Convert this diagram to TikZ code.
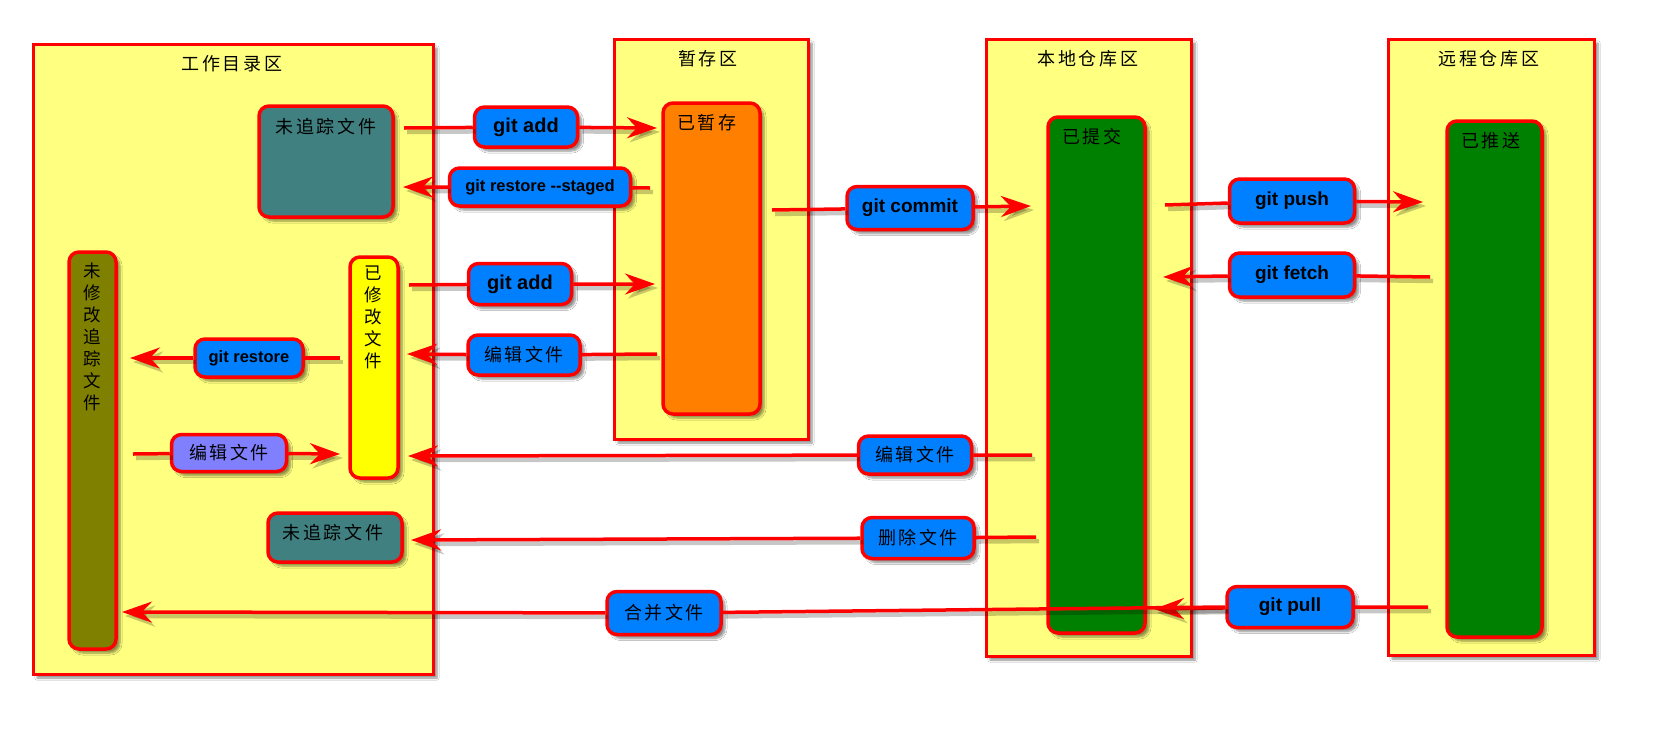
\documentclass[tikz,border=0pt]{standalone}
\usepackage{fontspec}
\setmainfont{Liberation Sans}
\newfontfamily\cjk[LetterSpace=14]{Noto Sans CJK SC}
\newfontfamily\cjkv{Noto Sans CJK SC}
\usetikzlibrary{arrows.meta,shadows.blur}
\definecolor{areaY}{HTML}{FFFF80}
\definecolor{teal1}{HTML}{408080}
\definecolor{olive1}{HTML}{808000}
\definecolor{yel1}{HTML}{FFFF00}
\definecolor{ora1}{HTML}{FF8000}
\definecolor{grn1}{HTML}{008000}
\definecolor{blu1}{HTML}{0080FF}
\definecolor{pur1}{HTML}{8080FF}
\tikzset{
 shd/.style={blur shadow={shadow xshift=4pt,shadow yshift=-4pt,shadow blur steps=6,shadow opacity=45}},
 area/.style={draw=red, line width=3pt, fill=areaY, shd, inner sep=0pt},
 box/.style={draw=red, line width=3.5pt, rounded corners=10pt, shd, inner sep=0pt},
 lab/.style={draw=red, line width=3.5pt, rounded corners=10pt, fill=blu1, shd, inner sep=0pt, minimum height=40pt, font=\bfseries\fontsize{20}{24}\selectfont},
 smlab/.style={lab, font=\bfseries\fontsize{16.5}{20}\selectfont},
 cjklab/.style={lab, font=\cjk\fontsize{18}{20}\selectfont},
 ttl/.style={font=\cjk\fontsize{18}{20}\selectfont, inner sep=0pt},
 vtxt/.style={font=\cjkv\fontsize{17.5}{22}\selectfont, align=center, inner sep=0pt, anchor=north},
 arr/.style={draw=red, line width=3.5pt, -{Stealth[length=30pt,width=21pt,inset=10pt]},
   preaction={draw=black, draw opacity=0.22, fill opacity=0.22, line width=4.5pt, transform canvas={xshift=3pt,yshift=-4pt}}},
}
\begin{document}
\begin{tikzpicture}[x=1pt,y=-1pt]
\fill[white] (0,0) rectangle (1671,737);
\useasboundingbox (0,0) rectangle (1671,737);

% areas
\node[area, minimum width=400pt, minimum height=630pt] (work) at (233,359) {};
\node[area, minimum width=194pt, minimum height=400pt] (stage) at (711,239) {};
\node[area, minimum width=205pt, minimum height=617pt] (local) at (1088.5,347.5) {};
\node[area, minimum width=206pt, minimum height=616pt] (remote) at (1491,347) {};
\node[ttl] (workT) at (232,64) {工作目录区};
\node[ttl] (stageT) at (708,59) {暂存区};
\node[ttl] (localT) at (1088,59) {本地仓库区};
\node[ttl] (remoteT) at (1489,59) {远程仓库区};
% state boxes
\node[box, fill=teal1, minimum width=134pt, minimum height=111pt] (untr1) at (326,161.5) {};
\node[ttl] (untr1T) at (326,127) {未追踪文件};
\node[box, fill=olive1, minimum width=47pt, minimum height=397pt] (clean) at (92.5,450.5) {};
\node[vtxt] (cleanT) at (92,263) {未\\修\\改\\追\\踪\\文\\件};
\node[box, fill=yel1, minimum width=48pt, minimum height=221pt] (mod) at (374,367.5) {};
\node[vtxt] (modT) at (373,266) {已\\修\\改\\文\\件};
\node[box, fill=teal1, minimum width=134pt, minimum height=49pt] (untr2) at (335,537.5) {};
\node[ttl] (untr2T) at (333,533) {未追踪文件};
\node[box, fill=ora1, minimum width=97pt, minimum height=311pt] (staged) at (711.5,258.5) {};
\node[ttl] (stagedT) at (707,123) {已暂存};
\node[box, fill=grn1, minimum width=97pt, minimum height=516pt] (commit) at (1096.5,375) {};
\node[ttl] (commitT) at (1092,137) {已提交};
\node[box, fill=grn1, minimum width=95pt, minimum height=516pt] (pushed) at (1494.5,379) {};
\node[ttl] (pushedT) at (1491,141) {已推送};

% labels
\node[lab, minimum width=103pt] (L1) at (526,127) {git add};
\node[smlab, minimum width=181pt, minimum height=38pt] (L2) at (540,187) {git restore -{}-staged};
\node[lab, minimum width=103pt, minimum height=41pt] (L3) at (520,284) {git add};
\node[cjklab, minimum width=112pt] (L4) at (524,355) {编辑文件};
\node[smlab, minimum width=108pt, minimum height=38pt] (L5) at (249,358) {git restore};
\node[cjklab, fill=pur1, minimum width=115pt, minimum height=37pt] (L6) at (229,453) {编辑文件};
\node[lab, minimum width=126pt, minimum height=43pt, font=\bfseries\fontsize{19}{23}\selectfont] (L7) at (910,208) {git commit};
\node[lab, minimum width=125pt, minimum height=44pt, font=\bfseries\fontsize{19}{23}\selectfont] (L8) at (1292,201) {git push};
\node[lab, minimum width=125pt, minimum height=44pt, font=\bfseries\fontsize{19}{23}\selectfont] (L9) at (1292,275) {git fetch};
\node[cjklab, minimum width=113pt, minimum height=38pt] (L10) at (915,455) {编辑文件};
\node[cjklab, minimum width=112pt, minimum height=41pt] (L11) at (918,538) {删除文件};
\node[cjklab, minimum width=114pt, minimum height=43pt] (L12) at (664,613) {合并文件};
\node[lab, minimum width=126pt, minimum height=41pt, font=\bfseries\fontsize{19}{23}\selectfont] (L13) at (1290,607) {git pull};

% connector end points
\coordinate (a1s) at (404,128);  \coordinate (a1e) at (657,128);
\coordinate (a2s) at (650,188);  \coordinate (a2e) at (403,187);
\coordinate (a3s) at (409,285);  \coordinate (a3e) at (655,284);
\coordinate (a4s) at (657,354);  \coordinate (a4e) at (407,354);
\coordinate (a5s) at (340,358);  \coordinate (a5e) at (130,358);
\coordinate (a6s) at (133,454);  \coordinate (a6e) at (340,454);
\coordinate (a7s) at (772,210);  \coordinate (a7e) at (1031,206);
\coordinate (a8s) at (1165,205); \coordinate (a8e) at (1423,202);
\coordinate (a9s) at (1430,277); \coordinate (a9e) at (1163,277);
\coordinate (a10s) at (1032,455); \coordinate (a10e) at (408,456);
\coordinate (a11s) at (1036,537); \coordinate (a11e) at (411,540);
\coordinate (a12s) at (1428,607); \coordinate (a12e) at (1154,609);
\coordinate (a13e) at (122,612);

\draw[arr] (a1s) -- (L1) -- (a1e);
\draw[arr] (a2s) -- (L2) -- (a2e);
\draw[arr] (a3s) -- (L3) -- (a3e);
\draw[arr] (a4s) -- (L4) -- (a4e);
\draw[arr] (a5s) -- (L5) -- (a5e);
\draw[arr] (a6s) -- (L6) -- (a6e);
\draw[arr] (a7s) -- (L7) -- (a7e);
\draw[arr] (a8s) -- (L8) -- (a8e);
\draw[arr] (a9s) -- (L9) -- (a9e);
\draw[arr] (a10s) -- (L10) -- (a10e);
\draw[arr] (a11s) -- (L11) -- (a11e);
\draw[arr] (a12s) -- (L13) -- (a12e);
\draw[arr] (L13.west) -- (L12) -- (a13e);
\end{tikzpicture}
\end{document}
